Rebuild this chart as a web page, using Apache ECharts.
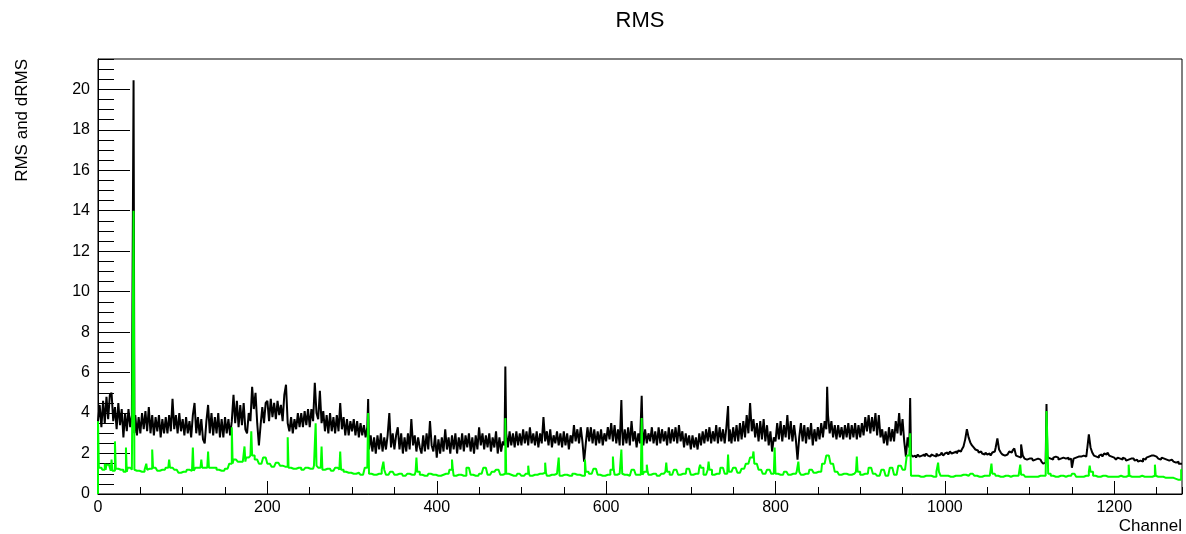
<!DOCTYPE html>
<html>
<head>
<meta charset="utf-8">
<title>RMS</title>
<script src="https://cdn.jsdelivr.net/npm/echarts@6/dist/echarts.min.js"></script>
<style>
  html, body { margin: 0; padding: 0; background: #fff; }
  #main { width: 1186px; height: 534px; }
</style>
</head>
<body>
<div id="main"></div>
<script>
const nChannels = 1280

// RMS: one value per 2 channels (one row = 100 channels)
const blackBin = 2
const blackBase = [
  3.6, 4.4, 3.3, 4.6, 3.5, 4.8, 3.7, 4.9, 5.0, 3.6, 4.3, 3.2, 4.5, 3.4, 4.2, 2.8, 4.0, 3.1, 4.2, 3.3, 3.9, 3.0, 3.9, 2.9, 3.8, 3.0, 4.0, 3.2, 4.1, 3.1, 4.3, 3.0, 3.9, 2.9, 3.8, 3.1, 3.9, 2.8, 3.7, 3.0, 3.8, 3.0, 3.9, 3.1, 4.7, 3.2, 3.9, 3.0, 4.0, 3.1,
  3.7, 2.9, 3.8, 3.0, 3.6, 2.8, 3.9, 4.5, 3.0, 3.8, 2.9, 3.7, 2.7, 2.5, 3.6, 4.4, 3.0, 4.0, 2.9, 3.8, 3.0, 4.0, 2.8, 3.7, 2.8, 3.8, 3.0, 3.7, 2.9, 3.6, 4.9, 3.5, 4.6, 3.3, 4.4, 3.4, 4.5, 3.2, 3.0, 4.0, 3.6, 5.3, 4.2, 5.0, 3.5, 2.4, 3.4, 4.3, 3.5, 4.5,
  4.6, 3.6, 4.7, 3.8, 4.5, 3.7, 4.6, 3.9, 4.4, 3.6, 4.9, 5.4, 3.5, 3.1, 3.8, 3.0, 3.7, 3.2, 4.0, 3.3, 4.0, 3.3, 4.1, 3.4, 4.2, 3.3, 4.2, 3.6, 5.5, 4.0, 3.7, 5.1, 3.5, 4.1, 3.1, 3.9, 3.0, 4.0, 3.1, 3.8, 3.0, 3.9, 3.1, 4.5, 3.2, 3.8, 2.9, 3.7, 2.9, 3.6,
  3.1, 3.7, 2.9, 3.6, 2.8, 3.5, 2.9, 3.4, 2.8, 3.3, 2.2, 2.9, 2.1, 2.8, 2.0, 2.9, 2.2, 3.0, 2.1, 2.8, 2.2, 2.9, 4.0, 2.3, 3.0, 2.2, 2.9, 3.3, 2.2, 3.0, 2.0, 2.8, 2.1, 3.0, 2.2, 3.7, 2.4, 2.9, 2.1, 2.8, 2.3, 2.0, 2.9, 2.1, 3.0, 2.2, 3.6, 2.4, 2.1, 2.9,
  1.8, 2.7, 2.0, 2.8, 2.1, 3.2, 2.2, 2.8, 2.0, 2.9, 2.2, 3.0, 2.0, 2.8, 2.2, 3.0, 2.1, 2.9, 2.3, 3.0, 2.1, 2.8, 2.0, 2.9, 2.2, 3.3, 2.4, 3.0, 2.2, 2.9, 2.3, 3.0, 2.1, 2.8, 2.3, 3.1, 2.0, 2.8, 2.1, 2.6, 2.4, 3.0, 2.3, 3.1, 2.4, 3.0, 2.3, 3.1, 2.4, 3.0,
  2.4, 3.2, 2.5, 3.1, 2.4, 3.3, 2.5, 3.0, 2.4, 3.1, 2.3, 3.0, 2.5, 3.8, 2.6, 3.1, 2.4, 3.2, 2.3, 2.9, 2.5, 3.1, 2.4, 3.0, 2.3, 3.1, 2.4, 3.0, 2.2, 2.9, 2.5, 3.4, 2.6, 3.2, 2.5, 3.3, 2.6, 1.6, 2.5, 3.3, 2.6, 3.3, 2.5, 3.2, 2.4, 3.1, 2.5, 3.2, 2.4, 3.0,
  2.6, 3.3, 2.7, 3.5, 2.6, 3.4, 2.5, 3.2, 2.4, 3.1, 2.4, 3.2, 2.5, 3.3, 2.4, 3.6, 2.6, 3.1, 2.3, 3.0, 2.5, 3.1, 2.4, 3.2, 2.5, 3.0, 2.6, 3.3, 2.5, 3.1, 2.4, 3.3, 2.5, 3.2, 2.6, 3.1, 2.4, 3.3, 2.5, 3.2, 2.6, 3.3, 2.5, 3.4, 2.6, 3.1, 2.3, 3.0, 2.4, 2.9,
  2.2, 2.9, 2.3, 2.8, 2.2, 3.0, 2.4, 3.1, 2.5, 3.2, 2.6, 3.3, 2.5, 3.1, 2.6, 3.4, 2.5, 3.3, 2.6, 3.2, 2.5, 3.3, 2.6, 3.2, 2.5, 3.3, 2.6, 3.4, 2.6, 3.5, 2.7, 3.6, 2.8, 3.9, 3.0, 4.5, 3.1, 3.7, 2.8, 3.5, 2.6, 3.6, 2.7, 3.7, 2.6, 3.4, 2.4, 3.1, 2.1, 2.8,
  2.6, 3.5, 2.7, 3.6, 2.6, 3.4, 2.8, 3.9, 2.7, 3.6, 2.6, 3.4, 2.7, 1.7, 2.8, 3.5, 2.6, 3.4, 2.5, 3.3, 2.7, 3.5, 2.4, 3.2, 2.6, 3.3, 2.7, 3.5, 2.8, 3.6, 3.2, 3.9, 3.0, 3.6, 2.8, 3.4, 2.7, 3.4, 2.8, 3.3, 2.7, 3.4, 2.8, 3.5, 2.7, 3.4, 2.8, 3.5, 2.7, 3.4,
  2.8, 3.5, 2.9, 3.8, 3.1, 3.9, 3.0, 3.8, 3.1, 4.0, 2.9, 3.9, 2.8, 3.2, 2.5, 3.1, 2.4, 3.3, 2.6, 3.2, 2.6, 3.6, 3.0, 4.0, 2.9, 3.7, 2.6, 1.85, 2.8, 2.3, 1.95, 1.85, 1.9, 1.8, 1.95, 1.85, 1.9, 1.95, 1.85, 2.0, 1.9, 1.85, 1.95, 1.9, 1.85, 2.0, 1.9, 1.95, 2.05, 1.9,
  2.0, 2.05, 1.95, 2.1, 2.0, 2.05, 2.1, 2.0, 2.15, 2.1, 2.2, 2.35, 2.7, 3.2, 2.8, 2.55, 2.4, 2.3, 2.2, 2.15, 2.05, 2.1, 2.0, 1.95, 2.05, 1.95, 2.0, 1.9, 2.05, 2.1, 2.3, 2.75, 2.2, 2.05, 1.95, 1.9, 1.95, 2.0, 2.1, 2.05, 2.15, 2.25, 1.9, 1.85, 1.8, 2.45, 1.9, 1.75, 1.7, 1.75,
  1.8, 1.75, 1.65, 1.7, 1.75, 1.8, 1.7, 1.6, 1.5, 1.55, 1.9, 1.8, 1.75, 1.7, 1.8, 1.85, 1.8, 1.7, 1.75, 1.8, 1.85, 1.75, 1.8, 1.7, 1.75, 1.3, 1.75, 1.8, 1.85, 1.9, 1.85, 1.9, 1.95, 1.85, 2.2, 2.95, 2.3, 2.05, 1.9, 1.85, 1.8, 1.9, 1.95, 1.85, 2.0, 1.95, 2.05, 1.9, 1.85, 1.8,
  1.75, 1.7, 1.8, 1.75, 1.7, 1.8, 1.75, 1.65, 1.7, 1.75, 1.7, 1.75, 1.65, 1.7, 1.6, 1.65, 1.6, 1.75, 1.7, 1.8, 1.85, 1.9, 1.95, 1.9, 1.85, 1.8, 1.75, 1.7, 1.8, 1.75, 1.7, 1.75, 1.65, 1.7, 1.65, 1.6, 1.55, 1.6, 1.5, 1.5
]

// single-channel spikes [channel, value]
const blackSpikes = [
  [42, 20.45], [319, 4.7], [481, 6.3], [618, 4.65], [642, 4.85],
  [744, 4.35], [861, 5.3], [959, 4.75], [1120, 4.45]
]

// dRMS: one value per 5 channels (one row = 100 channels)
const greenBin = 5
const greenBase = [
  1.3, 1.2, 1.45, 1.15, 1.25, 1.2, 1.1, 1.3, 1.2, 1.15, 1.1, 1.2, 1.25, 1.3, 1.15, 1.2, 1.3, 1.3, 1.2, 1.05,
  1.1, 1.2, 1.15, 1.3, 1.3, 1.3, 1.3, 1.3, 1.2, 1.15, 1.25, 1.5, 1.7, 1.6, 1.6, 1.8, 1.9, 1.7, 1.5, 1.8,
  1.5, 1.35, 1.55, 1.4, 1.35, 1.3, 1.25, 1.3, 1.2, 1.3, 1.25, 1.4, 1.3, 1.2, 1.25, 1.15, 1.3, 1.2, 1.1, 1.05,
  1.0, 1.05, 0.95, 1.3, 1.0, 0.95, 1.0, 1.2, 0.95, 1.1, 0.95, 1.0, 0.9, 1.0, 0.95, 1.1, 0.95, 0.9, 1.0, 0.95,
  0.9, 0.95, 1.0, 1.2, 0.9, 0.95, 0.9, 1.3, 0.95, 0.9, 1.0, 1.3, 0.95, 1.1, 1.2, 0.95, 1.0, 0.95, 0.9, 1.0,
  0.9, 1.0, 0.9, 0.95, 1.0, 1.05, 0.9, 0.95, 1.0, 0.9, 0.95, 0.9, 1.0, 0.95, 0.9, 1.1, 1.0, 1.25, 0.95, 0.9,
  0.95, 1.2, 0.95, 1.0, 0.95, 0.9, 1.2, 0.95, 0.95, 1.1, 0.95, 1.0, 0.9, 1.0, 1.1, 0.95, 1.2, 0.95, 1.0, 1.25,
  0.95, 1.0, 1.3, 0.95, 1.2, 0.95, 1.0, 1.3, 1.0, 1.1, 1.3, 1.05, 1.25, 1.5, 1.8, 1.5, 1.2, 1.0, 1.2, 1.0,
  1.0, 0.95, 1.1, 0.95, 1.0, 1.1, 0.95, 1.0, 1.2, 1.05, 1.1, 1.5, 1.9, 1.5, 1.1, 0.95, 1.0, 0.95, 1.0, 1.1,
  0.95, 1.0, 1.3, 1.0, 0.9, 1.2, 0.9, 1.3, 0.95, 1.4, 1.2, 1.9, 0.9, 0.9, 0.85, 0.9, 0.9, 0.85, 1.1, 0.9,
  0.9, 0.85, 0.9, 0.9, 0.95, 0.9, 1.0, 0.9, 0.85, 0.9, 0.9, 1.0, 0.9, 0.85, 0.9, 0.85, 0.9, 0.9, 0.95, 0.85,
  0.85, 0.85, 0.9, 0.9, 1.0, 0.9, 0.85, 0.9, 0.85, 0.9, 1.0, 0.85, 0.85, 0.9, 1.1, 0.9, 0.85, 0.9, 0.85, 0.85,
  0.85, 0.9, 0.85, 0.9, 0.85, 0.85, 0.9, 0.85, 0.85, 0.9, 0.85, 0.85, 0.8, 0.8, 0.75, 0.7
]

const greenSpikes = [
  [0, 3.6], [8, 1.5], [16, 1.7], [20, 2.6], [33, 2.3], [42, 14.0], [57, 1.5], [64, 2.2],
  [84, 1.7], [112, 2.3], [122, 1.7], [130, 2.1], [158, 3.3], [173, 2.35], [181, 3.1],
  [224, 2.8], [257, 3.5], [264, 2.35], [286, 2.1], [319, 4.0], [337, 1.6], [376, 1.8],
  [418, 1.7], [481, 3.75], [508, 1.4], [528, 1.55], [544, 1.8], [575, 1.7], [608, 1.85],
  [618, 2.2], [642, 3.75], [648, 1.45], [671, 1.55], [711, 1.45], [721, 1.6], [744, 1.95],
  [774, 2.1], [799, 2.3], [827, 1.6], [861, 1.95], [896, 1.85], [959, 3.0], [992, 1.55],
  [1055, 1.5], [1089, 1.45], [1120, 4.1], [1121, 2.7], [1171, 1.4], [1217, 1.45],
  [1248, 1.45], [1279, 1.2]
]

const FONT = 'Liberation Sans'

function expand(base, bin, spikes) {
  const vals = []
  for (let ch = 0; ch < nChannels; ch++) vals.push(base[Math.floor(ch / bin)])
  spikes.forEach(([ch, v]) => { vals[ch] = v })
  const pts = vals.map((v, ch) => [ch, v])
  pts.push([nChannels, vals[nChannels - 1]])
  return pts
}

const blackData = expand(blackBase, blackBin, blackSpikes)
const greenData = [[0, 0]].concat(expand(greenBase, greenBin, greenSpikes))

const chart = echarts.init(document.getElementById('main'), null, { renderer: 'canvas' })

const axisCommon = {
  type: 'value',
  splitLine: { show: false },
  axisLine: { show: true, lineStyle: { color: '#000', width: 1 } }
}

chart.setOption({
  animation: false,
  backgroundColor: '#fff',
  grid: {
    left: 98, right: 4, top: 59, bottom: 40,
    show: true, borderColor: '#000', borderWidth: 1, backgroundColor: 'transparent'
  },
  xAxis: [
    Object.assign({}, axisCommon, {
      min: 0, max: nChannels, interval: 200, position: 'bottom',
      axisTick: { show: true, inside: true, length: 13, lineStyle: { color: '#000' } },
      axisLabel: {
        margin: 6, fontSize: 16, fontFamily: FONT, color: '#000', showMaxLabel: false,
        formatter: v => (v % 200 === 0 ? String(v) : '')
      }
    }),
    Object.assign({}, axisCommon, {
      min: 0, max: nChannels, interval: 50, position: 'bottom',
      axisLine: { show: false },
      axisTick: { show: true, inside: true, length: 7, lineStyle: { color: '#000' } },
      axisLabel: { show: false }
    })
  ],
  yAxis: [
    Object.assign({}, axisCommon, {
      min: 0, max: 21.5, interval: 2, position: 'left',
      axisTick: { show: true, inside: true, length: 32, lineStyle: { color: '#000' } },
      axisLabel: {
        margin: 8, fontSize: 16, fontFamily: FONT, color: '#000', showMaxLabel: false,
        formatter: v => (v % 2 === 0 ? String(v) : '')
      }
    }),
    Object.assign({}, axisCommon, {
      min: 0, max: 21.5, interval: 0.5, position: 'left', offset: 0,
      axisLine: { show: false },
      axisTick: { show: true, inside: true, length: 16, lineStyle: { color: '#000' } },
      axisLabel: { show: false }
    })
  ],
  graphic: [
    {
      type: 'text', x: 640, y: 21,
      style: { text: 'RMS', font: '22px "Liberation Sans"', fill: '#000', textAlign: 'center', textVerticalAlign: 'middle' }
    },
    {
      type: 'text', x: 1182, y: 526,
      style: { text: 'Channel', font: '17px "Liberation Sans"', fill: '#000', textAlign: 'right', textVerticalAlign: 'middle' }
    },
    {
      type: 'text', x: 22, y: 59, rotation: Math.PI / 2,
      style: { text: 'RMS and dRMS', font: '17px "Liberation Sans"', fill: '#000', textAlign: 'right', textVerticalAlign: 'middle' }
    }
  ],
  series: [
    {
      name: 'RMS', type: 'line', data: blackData, step: 'end', symbol: 'none',
      xAxisIndex: 0, yAxisIndex: 0, z: 2,
      lineStyle: { color: '#000', width: 2 }
    },
    {
      name: 'dRMS', type: 'line', data: greenData, step: 'end', symbol: 'none',
      xAxisIndex: 0, yAxisIndex: 0, z: 3,
      lineStyle: { color: '#00ff00', width: 2 }
    }
  ]
})
</script>
</body>
</html>
